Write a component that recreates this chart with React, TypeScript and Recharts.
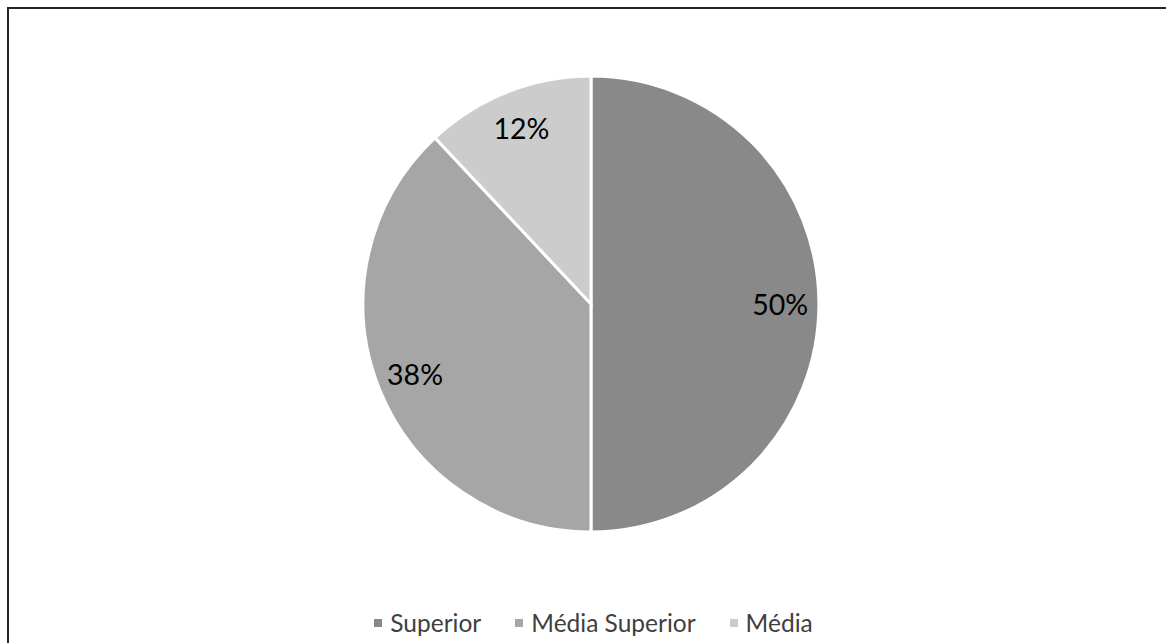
import { Cell, Legend, Pie, PieChart } from "recharts";

const categories = ["Superior", "Média Superior", "Média"];
const shares = [50, 38, 12];
const colors = ["#898989", "#a6a6a6", "#cccccc"];

const data = categories.map((name, i) => ({ name, value: shares[i], color: colors[i] }));

const RADIAN = Math.PI / 180;
const FONT = "Lato, 'Open Sans', sans-serif";

function renderLabel(props: any) {
  const { cx, cy, midAngle, outerRadius, percent } = props;
  const r = outerRadius * 0.83;
  const x = cx + r * Math.cos(-midAngle * RADIAN);
  const y = cy + r * Math.sin(-midAngle * RADIAN);
  return (
    <text
      x={x}
      y={y}
      textAnchor="middle"
      dominantBaseline="central"
      fill="#000000"
      fontSize={28.5}
      fontFamily={FONT}
    >
      {`${Math.round(percent * 100)}%`}
    </text>
  );
}

function LegendRow() {
  return (
    <div
      style={{
        display: "flex",
        justifyContent: "center",
        gap: 34,
        fontFamily: FONT,
        fontSize: 24.5,
        color: "#404040",
        paddingLeft: 21,
      }}
    >
      {data.map((d) => (
        <span key={d.name} style={{ display: "flex", alignItems: "center" }}>
          <span
            style={{
              width: 8,
              height: 8,
              background: d.color,
              display: "inline-block",
              marginRight: 8,
            }}
          />
          {d.name}
        </span>
      ))}
    </div>
  );
}

export default function App() {
  return (
    <div
      style={{
        position: "fixed",
        left: 0,
        top: 0,
        width: 1166,
        height: 643,
        background: "#ffffff",
        overflow: "hidden",
      }}
    >
      <div
        style={{
          position: "absolute",
          left: 7,
          top: 7,
          width: 1200,
          height: 700,
          borderLeft: "2px solid #262626",
          borderTop: "2px solid #262626",
        }}
      />
      <div style={{ position: "absolute", left: 0, top: 0 }}>
        <PieChart width={1166} height={643} margin={{ top: 0, right: 0, bottom: 0, left: 0 }}>
          <Pie
            data={data}
            dataKey="value"
            nameKey="name"
            cx={591}
            cy={304}
            outerRadius={228}
            startAngle={90}
            endAngle={-270}
            stroke="#ffffff"
            strokeWidth={3}
            label={renderLabel}
            labelLine={false}
            isAnimationActive={false}
          >
            {data.map((d) => (
              <Cell key={d.name} fill={d.color} />
            ))}
          </Pie>
          <Legend
            layout="horizontal"
            verticalAlign="bottom"
            align="center"
            content={() => <LegendRow />}
            wrapperStyle={{ left: 0, width: 1166, bottom: 6 }}
          />
        </PieChart>
      </div>
    </div>
  );
}
